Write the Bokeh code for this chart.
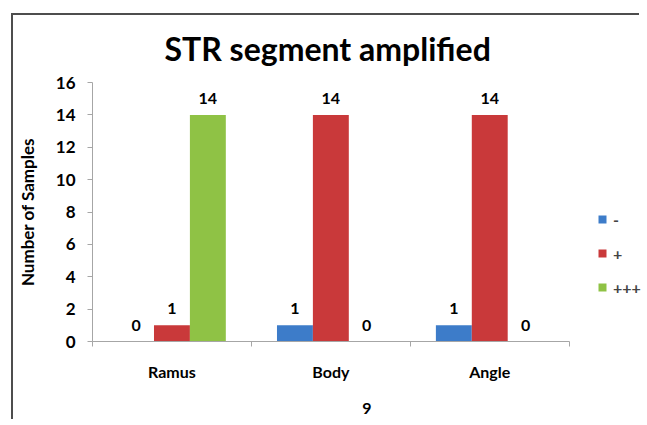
from bokeh.plotting import figure
from bokeh.models import (ColumnDataSource, LabelSet, Legend, LegendItem, Title,
                          FixedTicker, Range1d)
from bokeh.core.properties import value
from bokeh.transform import dodge
from bokeh.embed import file_html
from bokeh.resources import INLINE

categories = ["Ramus", "Body", "Angle"]
series_names = ["-", "+", "+++"]
neg_vals = [0, 1, 1]
plus_vals = [1, 14, 14]
ppp_vals = [14, 0, 0]
y_ticks = [0, 2, 4, 6, 8, 10, 12, 14, 16]

colors = ["#3d7cc9", "#c9393a", "#8fc245"]
FONT = "Lato"

n = len(categories)
xc = [i + 0.5 for i in range(n)]
src = ColumnDataSource(dict(xc=xc, cat=categories, neg=neg_vals, plus=plus_vals, ppp=ppp_vals))

p = figure(x_range=Range1d(0, 3.455), y_range=Range1d(0, 16),
           width=628, height=406, output_backend="svg", toolbar_location=None,
           min_border_left=78, min_border_right=0, min_border_top=67, min_border_bottom=80)
p.margin = (13, 0, 0, 11)
p.styles = {"border-left": "2px solid #4d4d4d", "border-top": "2px solid #4d4d4d"}
p.outline_line_color = None
p.xgrid.grid_line_color = None
p.ygrid.grid_line_color = None

bw = 0.226
fields = ["neg", "plus", "ppp"]
offsets = [-bw, 0, bw]
renderers = []
for f, off, c in zip(fields, offsets, colors):
    r = p.vbar(x=dodge("xc", off), top=f, width=bw, source=src,
               fill_color=c, line_color=None)
    renderers.append(r)
    lab = LabelSet(x=dodge("xc", off), y=f, text=f, source=src,
                   text_align="center", text_baseline="bottom", y_offset=11,
                   text_font=value(FONT), text_font_style="bold", text_font_size="16px",
                   text_color="black")
    p.add_layout(lab)

# axes
p.yaxis.ticker = FixedTicker(ticks=y_ticks)
p.xaxis.ticker = FixedTicker(ticks=xc, minor_ticks=list(range(n + 1)))
p.xaxis.major_label_overrides = {x: c for x, c in zip(xc, categories)}
p.xaxis.bounds = (0, n)
for ax in [p.xaxis[0], p.yaxis[0]]:
    ax.axis_line_color = "#a6a6a6"
    ax.major_tick_line_color = "#a6a6a6"
    ax.major_label_text_font = FONT
    ax.major_label_text_font_style = "bold"
    ax.major_label_text_font_size = "17px"
    ax.major_label_text_color = "black"
    ax.axis_label_text_font = FONT
    ax.axis_label_text_font_style = "bold"
    ax.axis_label_text_font_size = "16px"
    ax.axis_label_text_color = "black"
p.yaxis.minor_tick_line_color = None
p.yaxis.major_tick_in = 0
p.yaxis.major_tick_out = 5
p.yaxis.major_label_standoff = 12
p.yaxis.axis_label = "Number of Samples"
p.yaxis.axis_label_text_font_size = "17px"
p.yaxis.axis_label_standoff = 15
p.xaxis.major_tick_line_color = None
p.xaxis.major_tick_in = 0
p.xaxis.major_tick_out = 0
p.xaxis.minor_tick_line_color = "#a6a6a6"
p.xaxis.minor_tick_in = 0
p.xaxis.minor_tick_out = 5
p.xaxis.major_label_text_font_size = "16px"
p.xaxis.major_label_standoff = 15
p.xaxis.axis_label = "9"
p.xaxis.axis_label_standoff = 19

title = Title(text="STR segment amplified", align="left", text_font=FONT,
              text_font_style="bold", text_font_size="32px", text_color="black",
              vertical_align="top", standoff=26, offset=72)
p.add_layout(title, "above")

legend = Legend(items=[LegendItem(label=nm, renderers=[r]) for nm, r in zip(series_names, renderers)],
                location=(505, 44), orientation="vertical", glyph_width=10, glyph_height=10,
                label_text_font=FONT, label_text_font_style="bold", label_text_font_size="16px",
                label_height=20, spacing=14, padding=0, margin=0,
                background_fill_alpha=0, border_line_color=None, label_standoff=6)
p.add_layout(legend, "center")

open("out.html", "w").write(file_html(p, INLINE))
